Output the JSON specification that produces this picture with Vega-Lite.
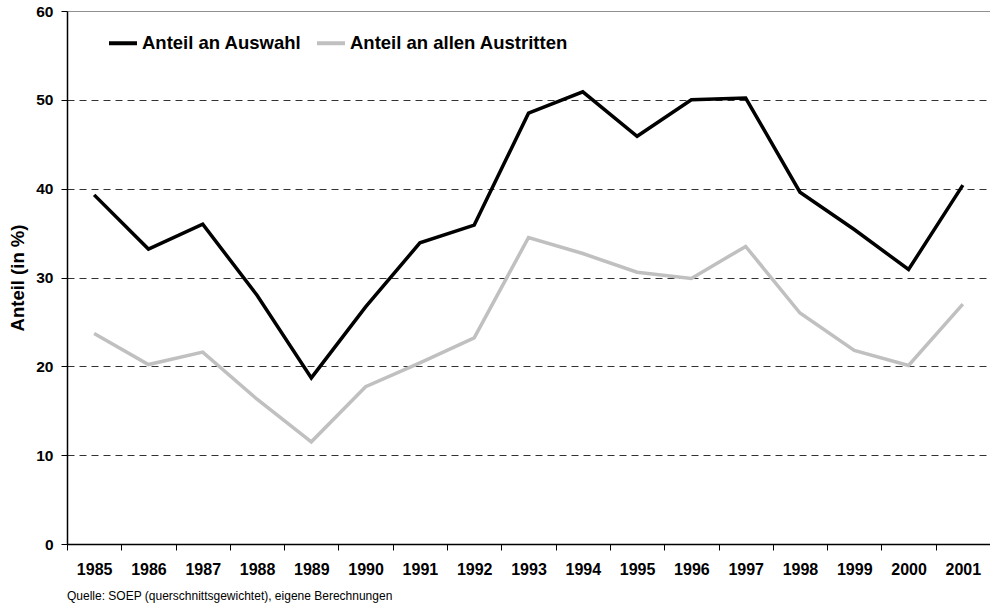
{
  "$schema": "https://vega.github.io/schema/vega-lite/v6.json",
  "width": 923,
  "height": 533,
  "autosize": {"type": "none"},
  "padding": {"left": 67, "top": 11, "right": 0, "bottom": 63},
  "background": "white",
  "config": {
    "font": "Liberation Sans",
    "view": {"stroke": null}
  },
  "title": {
    "text": "Quelle: SOEP (querschnittsgewichtet), eigene Berechnungen",
    "orient": "bottom",
    "anchor": "start",
    "frame": "group",
    "offset": 14,
    "fontSize": 12,
    "fontWeight": "normal",
    "color": "#000000"
  },
  "data": {
    "values": [
      {"year": "1985", "series": "Anteil an Auswahl", "value": 39.3},
      {"year": "1986", "series": "Anteil an Auswahl", "value": 33.2},
      {"year": "1987", "series": "Anteil an Auswahl", "value": 36.0},
      {"year": "1988", "series": "Anteil an Auswahl", "value": 28.0},
      {"year": "1989", "series": "Anteil an Auswahl", "value": 18.7},
      {"year": "1990", "series": "Anteil an Auswahl", "value": 26.7},
      {"year": "1991", "series": "Anteil an Auswahl", "value": 33.9},
      {"year": "1992", "series": "Anteil an Auswahl", "value": 35.9},
      {"year": "1993", "series": "Anteil an Auswahl", "value": 48.5},
      {"year": "1994", "series": "Anteil an Auswahl", "value": 50.9},
      {"year": "1995", "series": "Anteil an Auswahl", "value": 45.9},
      {"year": "1996", "series": "Anteil an Auswahl", "value": 50.0},
      {"year": "1997", "series": "Anteil an Auswahl", "value": 50.2},
      {"year": "1998", "series": "Anteil an Auswahl", "value": 39.6},
      {"year": "1999", "series": "Anteil an Auswahl", "value": 35.4},
      {"year": "2000", "series": "Anteil an Auswahl", "value": 30.9},
      {"year": "2001", "series": "Anteil an Auswahl", "value": 40.4},
      {"year": "1985", "series": "Anteil an allen Austritten", "value": 23.7},
      {"year": "1986", "series": "Anteil an allen Austritten", "value": 20.2},
      {"year": "1987", "series": "Anteil an allen Austritten", "value": 21.6},
      {"year": "1988", "series": "Anteil an allen Austritten", "value": 16.3},
      {"year": "1989", "series": "Anteil an allen Austritten", "value": 11.5},
      {"year": "1990", "series": "Anteil an allen Austritten", "value": 17.7},
      {"year": "1991", "series": "Anteil an allen Austritten", "value": 20.4},
      {"year": "1992", "series": "Anteil an allen Austritten", "value": 23.2},
      {"year": "1993", "series": "Anteil an allen Austritten", "value": 34.5},
      {"year": "1994", "series": "Anteil an allen Austritten", "value": 32.7},
      {"year": "1995", "series": "Anteil an allen Austritten", "value": 30.6},
      {"year": "1996", "series": "Anteil an allen Austritten", "value": 29.9},
      {"year": "1997", "series": "Anteil an allen Austritten", "value": 33.5},
      {"year": "1998", "series": "Anteil an allen Austritten", "value": 26.0},
      {"year": "1999", "series": "Anteil an allen Austritten", "value": 21.8},
      {"year": "2000", "series": "Anteil an allen Austritten", "value": 20.1},
      {"year": "2001", "series": "Anteil an allen Austritten", "value": 27.0}
    ]
  },
  "mark": {"type": "line", "strokeWidth": 3.5, "strokeJoin": "miter"},
  "encoding": {
    "x": {
      "field": "year",
      "type": "ordinal",
      "scale": {"type": "band", "paddingInner": 0, "paddingOuter": 0},
      "axis": {
        "title": null,
        "labelAngle": 0,
        "labelFontSize": 16,
        "labelFontWeight": "bold",
        "labelColor": "#000000",
        "labelPadding": 11,
        "tickBand": "extent",
        "tickSize": 6,
        "tickColor": "#000000",
        "domainColor": "#000000",
        "domainWidth": 1.5,
        "grid": false
      }
    },
    "y": {
      "field": "value",
      "type": "quantitative",
      "scale": {"domain": [0, 60], "nice": false},
      "axis": {
        "title": "Anteil (in %)",
        "titleFontSize": 18.5,
        "titleFontWeight": "bold",
        "titleColor": "#000000",
        "titlePadding": 8,
        "values": [0, 10, 20, 30, 40, 50, 60],
        "labelFontSize": 15.5,
        "labelFontWeight": "bold",
        "labelColor": "#000000",
        "labelPadding": 8,
        "tickSize": 6,
        "tickColor": "#000000",
        "domainColor": "#000000",
        "domainWidth": 1.5,
        "grid": true,
        "gridColor": {"condition": {"test": "datum.value === 60", "value": "#909090"}, "value": "#333333"},
        "gridDash": {"condition": {"test": "datum.value === 60", "value": []}, "value": [7, 5]},
        "gridWidth": 1
      }
    },
    "color": {
      "field": "series",
      "type": "nominal",
      "scale": {
        "domain": ["Anteil an Auswahl", "Anteil an allen Austritten"],
        "range": ["#000000", "#c0c0c0"]
      },
      "legend": {
        "title": null,
        "orient": "none",
        "direction": "horizontal",
        "legendX": 40,
        "legendY": 16,
        "symbolType": "stroke",
        "symbolStrokeWidth": 4,
        "symbolSize": 784,
        "labelFontSize": 18.5,
        "labelFontWeight": "bold",
        "labelColor": "#000000",
        "labelOffset": 3,
        "labelLimit": 0,
        "columnPadding": 7
      }
    }
  }
}
